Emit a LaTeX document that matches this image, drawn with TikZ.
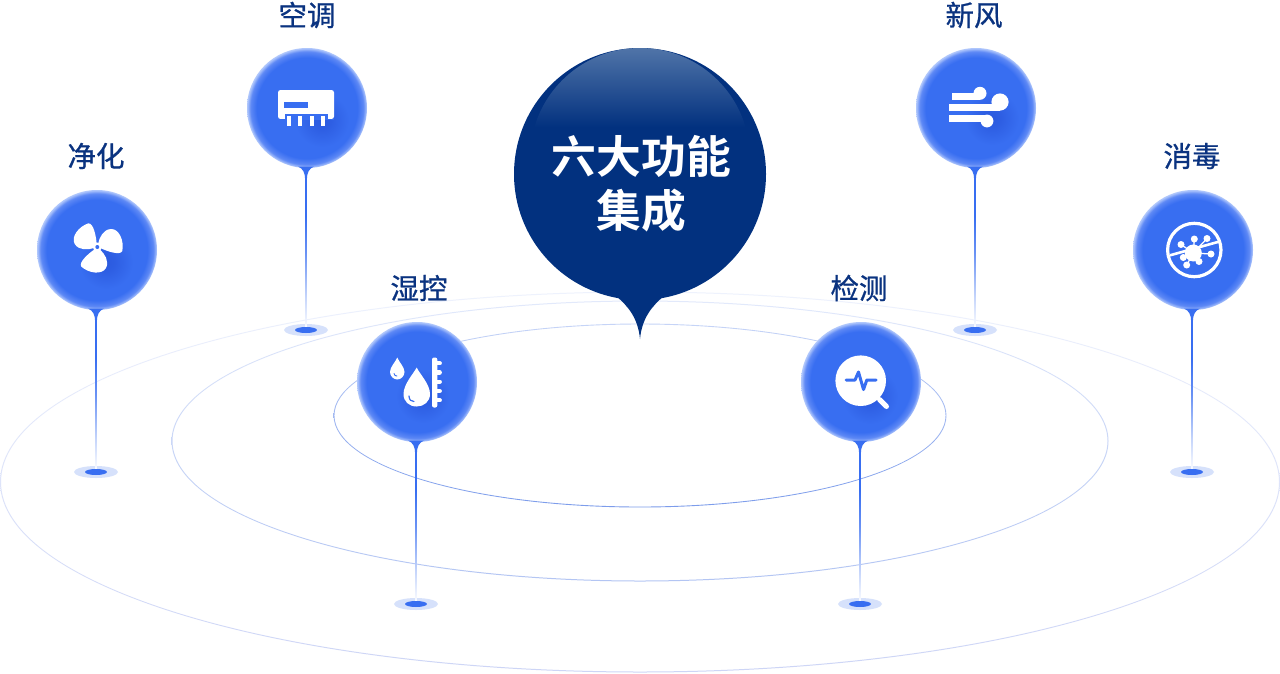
\documentclass[tikz,border=0pt]{standalone}
\usepackage{fontspec}
\newfontfamily\cjk[BoldFont={Noto Sans CJK SC Bold}]{Noto Sans CJK SC}
\newfontfamily\cjkm[FakeBold=0.8]{Noto Sans CJK SC}
\definecolor{pinbase}{HTML}{386EF1}
\definecolor{pinmid}{HTML}{5D88F5}
\definecolor{pinedge}{HTML}{B4CAFC}
\definecolor{pindark}{HTML}{2B5ADF}
\definecolor{navy}{HTML}{02317F}
\definecolor{navylight}{HTML}{5074A8}
\definecolor{labelc}{HTML}{0A3380}
\definecolor{footpale}{HTML}{D6E1FB}
\pgfdeclareradialshading{pinball}{\pgfpointorigin}{color(0bp)=(pinbase); color(21bp)=(pinbase); color(23.5bp)=(pinmid); color(25bp)=(pinedge); color(50bp)=(pinedge)}
\pgfdeclareradialshading{pinglow}{\pgfpointorigin}{color(0bp)=(pindark); color(8bp)=(pindark!80!pinbase); color(25bp)=(pinbase); color(50bp)=(pinbase)}
\pgfdeclareverticalshading{stemfade}{100bp}{color(0bp)=(white); color(25bp)=(white); color(36bp)=(pinbase!30!white); color(50bp)=(pinbase!75!white); color(62bp)=(pinbase); color(100bp)=(pinbase)}
\pgfdeclareverticalshading{tophl}{100bp}{color(0bp)=(navy); color(57bp)=(navy); color(75bp)=(navylight); color(100bp)=(navylight)}
\tikzset{
  pinnode/.style={circle,inner sep=0pt,minimum size=120pt,shading=pinball},
  footp/.style={ellipse,inner sep=0pt,minimum width=44pt,minimum height=12pt,fill=footpale},
  footc/.style={ellipse,inner sep=0pt,minimum width=22pt,minimum height=6pt,fill=pinbase},
  lab/.style={inner sep=0pt,text=labelc,font=\cjkm\fontsize{28.5}{32}\selectfont},
  title/.style={inner sep=0pt,text=white,font=\cjk\bfseries\fontsize{44.8}{54}\selectfont,align=center},
  icon/.style={fill=white,draw=none},
  iconcut/.style={fill=pinbase,draw=none},
  glow/.style={shading=pinglow},
}
\usetikzlibrary{shapes.geometric}
% name, cx, cy, stem x, foot y, label x, label y, label
\newcommand\mypin[8]{%
  \node[footp] (#1foot) at (#4,#5) {};
  \path[shading=stemfade] (#4-0.9,#3+68) rectangle (#4+0.9,#5);
  \node[footc] (#1core) at (#1foot) {};
  \node[pinnode] (#1) at (#2,#3) {};
  \fill[pinbase] (#4-8,#3+58.5) .. controls (#4-3,#3+60.5) and (#4-0.9,#3+65) .. (#4-0.9,#3+71)
     -- (#4+0.9,#3+71) .. controls (#4+0.9,#3+65) and (#4+3,#3+60.5) .. (#4+8,#3+58.5) -- cycle;
  \node[lab] (#1label) at (#6,#7) {#8};
}
\newcommand\ring[7]{% cx cy rx ry top bottom
  \path[even odd rule,top color=#5,bottom color=#6] (#1,#2) ellipse ({#3+#7} and {#4+#7}) (#1,#2) ellipse ({#3-#7} and {#4-#7});
}
\begin{document}
\begin{tikzpicture}[x=1pt,y=-1pt]
\useasboundingbox (0,0) rectangle (1280,673);
\fill[white] (0,0) rectangle (1280,673);
\begin{scope}
\clip (0,0) rectangle (1280,673);
\definecolor{ra}{HTML}{EEF2FD}\definecolor{rb}{HTML}{CDD5F6}
\definecolor{rc}{HTML}{E2E9FB}\definecolor{rd}{HTML}{B3C5F3}
\definecolor{re}{HTML}{C6D4F7}\definecolor{rf}{HTML}{7C9CEB}
\ring{640}{482}{639.5}{190}{ra}{rb}{0.5}
\ring{640}{441}{468}{140}{rc}{rd}{0.5}
\ring{640}{415.5}{306}{91.5}{re}{rf}{0.45}
\end{scope}

% central bubble
\node[circle,inner sep=0pt,minimum size=252pt,fill=navy] (hub) at (640,174) {};
\fill[navy] (616,296) .. controls (628,306) and (638,318) .. (640,339) .. controls (642,318) and (652,306) .. (664,296) -- cycle;
\path[shading=tophl] (640,158) circle (110);
\node[title] (hubtext) at (641.5,184) {六大功能\\集成};

\mypin{ac}{307}{108}{306}{330}{307}{15}{空调}
\mypin{fan}{97}{250}{96}{472}{96}{156}{净化}
\mypin{hum}{417}{382}{416}{604}{419}{288}{湿控}
\mypin{det}{861}{382}{860}{604}{859}{288}{检测}
\mypin{wind}{976}{108}{975}{330}{974}{15}{新风}
\mypin{dis}{1193}{250}{1192}{472}{1192}{156}{消毒}

% --- air conditioner icon
\path[glow] (322,120) circle (27);
\fill[icon,rounded corners=2.5pt] (278,90) rectangle (334,119);
\fill[iconcut] (283.5,101.5) rectangle (308,107.5);
\fill[iconcut] (285,113.5) rectangle (328,120);
\fill[iconcut] (278,119) rectangle (334,120);
\foreach \xx in {287,298,310,321} \fill[icon] (\xx,116) rectangle (\xx+4,126);

% --- fan icon
\path[glow] (106,262) circle (27);
\foreach \aa in {0,120,240}{
\begin{scope}[shift={(97.3,247)},rotate=\aa]
\fill[icon] (1,-4) .. controls (2,-9) and (6,-18) .. (14,-18) .. controls (22,-18) and (27,-6) .. (25,4) .. controls (23,9) and (9,4) .. (3,1) -- cycle;
\end{scope}}
\fill[icon] (97.3,247) circle (4.5);
\fill[iconcut] (97.3,247) circle (2);

% --- humidity icon
\path[glow] (423,396) circle (27);
\fill[icon] (397.3,357.5) .. controls (399,362) and (404.5,367) .. (404.5,372) .. controls (404.5,376) and (401,379.5) .. (397.3,379.5) .. controls (393.5,379.5) and (390,376) .. (390,372) .. controls (390,367) and (395.5,362) .. (397.3,357.5) -- cycle;
\fill[icon] (416.7,367.5) .. controls (419,373) and (430,384) .. (430,394) .. controls (430,401.5) and (424,406.5) .. (416.7,406.5) .. controls (409,406.5) and (403.5,401.5) .. (403.5,394) .. controls (403.5,384) and (414,373) .. (416.7,367.5) -- cycle;
\draw[pinbase,line width=0.9pt,line cap=round] (394,373.5) .. controls (394.3,375.5) and (395.5,376) .. (397,376);
\draw[pinbase,line width=1.2pt,line cap=round] (409,396) .. controls (409.3,400) and (411,401.5) .. (414,401.5);
\fill[icon,rounded corners=2pt] (432,357.5) rectangle (437.3,407.5);
\foreach \yy in {363.3,372.5,381.7,391,400.3} \draw[white,line width=4.2pt,line cap=round] (436,\yy) -- (439.8,\yy);

% --- detection icon
\path[glow] (870,396) circle (28);
\fill[icon] (860.7,380.7) circle (25.3);
\draw[white,line width=5pt,line cap=round] (879.5,399.5) -- (886.5,406.5);
\draw[pinbase,line width=3pt,line cap=round,line join=round] (846,380) -- (855,380) -- (858.5,372) -- (863.5,389.5) -- (866.8,380) -- (876,380);

% --- wind icon
\path[glow] (992,118) circle (27);
\fill[icon] (952.3,93.3) rectangle (980,100);
\fill[icon] (980,93.3) circle (6.5);
\fill[icon] (949,104.3) rectangle (1000,110.6);
\fill[icon] (1000,102) circle (8.6);
\fill[icon] (949,115) rectangle (987,121.5);
\fill[icon] (987,121) circle (6.4);

% --- virus icon
\draw[white,line width=3.2pt] (1194.3,250) circle (26.7);
\draw[white,line width=2.6pt] (1170,255.3) -- (1218.5,241.8);
\fill[icon] (1193.3,253) circle (8.5);
\foreach \vx/\vy in {1181/244.5,1194.3/239,1207/238.5,1211/254,1199/261.5,1186.7/265,1183.3/257.5}{
  \fill[icon] (\vx,\vy) circle (3.5);
  \draw[white,line width=1.3pt] (1193.3,253) -- (\vx,\vy);
}
\end{tikzpicture}
\end{document}
